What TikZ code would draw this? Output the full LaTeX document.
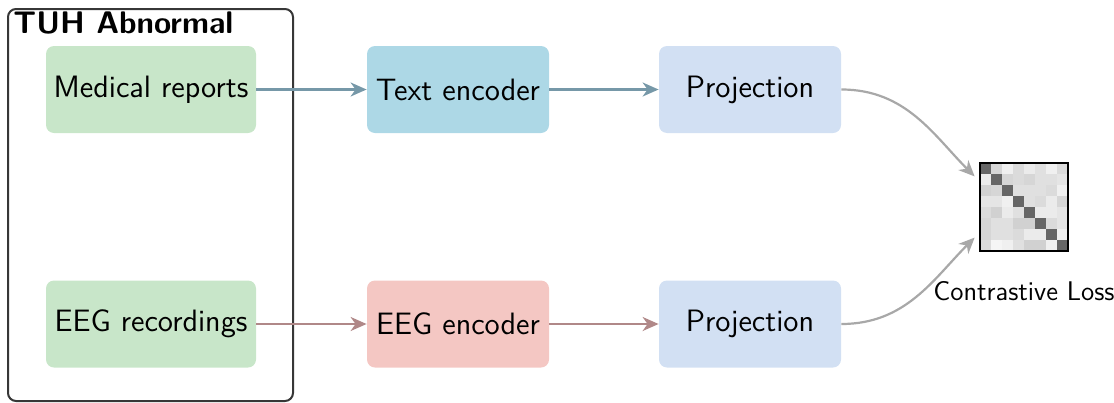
\documentclass[tikz,border=0pt]{standalone}
\usetikzlibrary{arrows.meta}
\definecolor{boxgreen}{RGB}{200,230,201}
\definecolor{txtblue}{RGB}{173,216,230}
\definecolor{eegred}{RGB}{244,199,195}
\definecolor{projblue}{RGB}{210,224,243}
\definecolor{txtarrow}{RGB}{118,152,168}
\definecolor{eegarrow}{RGB}{176,136,136}
\definecolor{lossarrow}{RGB}{168,168,168}
\definecolor{framegray}{RGB}{55,55,55}
\begin{document}
\begin{tikzpicture}[x=0.5pt,y=-0.5pt,
  box/.style={rounded corners=4pt, minimum height=43.5pt, inner sep=0pt,
    font=\sffamily\fontsize{15.45}{18}\selectfont},
  flow/.style={line width=1.1pt, -{Stealth[length=8pt,width=7pt,inset=2.5pt]}},
  lossflow/.style={line width=1.1pt, lossarrow, shorten >=3.5pt,
    -{Stealth[length=8pt,width=7pt,inset=2.5pt]}}]
\useasboundingbox (0,0) rectangle (1114,402);
% frame
\draw[framegray, line width=1pt, rounded corners=4pt] (8,9) rectangle (293,401);
\node[anchor=base west, inner sep=0pt, font=\sffamily\bfseries\fontsize{15.6}{18}\selectfont] (title) at (13,33) {TUH Abnormal};
% boxes
\node[box, fill=boxgreen, minimum width=105pt] (med) at (151,89.5) {Medical reports};
\node[box, fill=boxgreen, minimum width=105pt] (eegrec) at (151,324) {EEG recordings};
\node[box, fill=txtblue, minimum width=91pt] (tenc) at (458,89.5) {Text encoder};
\node[box, fill=eegred, minimum width=91pt] (eenc) at (458,324) {EEG encoder};
\node[box, fill=projblue, minimum width=91pt] (p1) at (750,89.5) {Projection};
\node[box, fill=projblue, minimum width=91pt] (p2) at (750,324) {Projection};
% similarity matrix
\node[minimum width=44pt, minimum height=44pt, inner sep=0pt] (mat) at (1024,207) {};
\foreach \row/\vals in {0/{40,84,94,86,92,88,94,86},
                        1/{92,40,84,86,84,88,88,90},
                        2/{82,84,40,88,88,88,86,94},
                        3/{90,90,94,40,88,86,92,84},
                        4/{86,82,92,88,40,92,92,90},
                        5/{84,88,88,82,82,40,86,90},
                        6/{84,88,88,86,92,92,40,94},
                        7/{86,96,94,88,82,82,94,40}} {
  \foreach \v [count=\col from 0] in \vals {
    \fill[fill=white!\v!black]
      (980+11*\col,163+11*\row) rectangle ++(11,11);
  }
}
\draw[black, line width=1pt] (mat.north west) rectangle (mat.south east);
\node[font=\sffamily\fontsize{13.5}{16}\selectfont, inner sep=0pt] (lossl) at (1024,291) {Contrastive Loss};
% connectors
\draw[flow, txtarrow] (med) -- (tenc);
\draw[flow, txtarrow] (tenc) -- (p1);
\draw[flow, eegarrow] (eegrec) -- (eenc);
\draw[flow, eegarrow] (eenc) -- (p2);
\draw[lossflow] (p1.east) to[out=0, in=135] (mat.150);
\draw[lossflow] (p2.east) to[out=0, in=-135] (mat.210);
\end{tikzpicture}
\end{document}
